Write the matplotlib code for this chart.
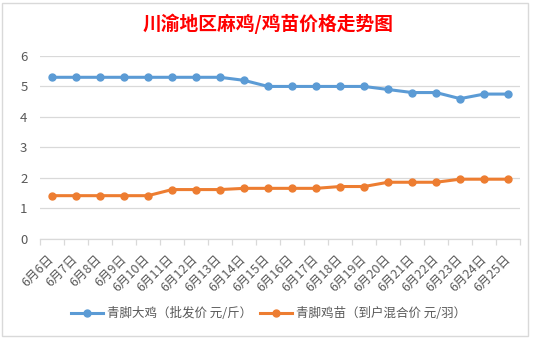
import matplotlib.pyplot as plt
from matplotlib.patches import Rectangle

plt.rcParams['font.family'] = ['Noto Sans CJK SC', 'DejaVu Sans']

# dates 6月6日 .. 6月25日
dates = ['6月6日', '6月7日', '6月8日', '6月9日', '6月10日', '6月11日', '6月12日',
         '6月13日', '6月14日', '6月15日', '6月16日', '6月17日', '6月18日', '6月19日',
         '6月20日', '6月21日', '6月22日', '6月23日', '6月24日', '6月25日']
# 青脚大鸡 wholesale price (元/斤)
big_chicken = [5.3, 5.3, 5.3, 5.3, 5.3, 5.3, 5.3, 5.3, 5.2, 5.0,
               5.0, 5.0, 5.0, 5.0, 4.9, 4.8, 4.8, 4.6, 4.75, 4.75]
# 青脚鸡苗 delivered price (元/羽)
chick = [1.42, 1.42, 1.42, 1.42, 1.42, 1.62, 1.62, 1.62, 1.66, 1.66,
         1.66, 1.66, 1.72, 1.72, 1.86, 1.86, 1.86, 1.96, 1.96, 1.96]
series_names = ['青脚大鸡（批发价 元/斤）', '青脚鸡苗（到户混合价 元/羽）']

blue = '#5B9BD5'
orange = '#ED7D31'
grey_txt = '#595959'
grid_col = '#D9D9D9'

fig = plt.figure(figsize=(5.37, 3.39), dpi=100)
ax = fig.add_axes([0.0745, 0.295, 0.894, 0.54])

x = list(range(len(dates)))
ax.plot(x, big_chicken, color=blue, lw=2.2, marker='o', ms=5, label=series_names[0])
ax.plot(x, chick, color=orange, lw=2.2, marker='o', ms=5, label=series_names[1])

ax.set_ylim(0, 6)
ax.set_xlim(-0.5, len(dates) - 0.5)
ax.set_yticks(range(0, 7))
ax.yaxis.grid(True, color=grid_col, lw=0.9)
ax.set_axisbelow(True)

for s in ['left', 'right', 'top']:
    ax.spines[s].set_visible(False)
ax.spines['bottom'].set_color(grid_col)
ax.spines['bottom'].set_linewidth(0.9)

ax.tick_params(axis='y', length=0, pad=9, labelsize=9.5, labelcolor=grey_txt)
ax.set_xticks(x)
ax.set_xticklabels(dates, rotation=45, ha='right', va='center',
                   rotation_mode='anchor', fontsize=9, color=grey_txt)
ax.tick_params(axis='x', which='major', length=0, pad=13)
ax.set_xticks([i - 0.5 for i in range(len(dates) + 1)], minor=True)
ax.tick_params(axis='x', which='minor', length=4, color=grid_col, width=0.9)

fig.text(0.5, 0.93, '川渝地区麻鸡/鸡苗价格走势图', color='red', fontsize=13.5,
         fontweight='bold', ha='center', va='center')

fig.legend(loc='center', bbox_to_anchor=(0.5, 0.075), ncol=2, frameon=False,
           fontsize=9, labelcolor=grey_txt, handlelength=2.6,
           handletextpad=0.3, columnspacing=0.6)

# chart area border
fig.patches.append(Rectangle((0.004, 0.009), 0.98, 0.982, transform=fig.transFigure,
                             fill=False, edgecolor=grid_col, lw=1))

fig.savefig('out.png', dpi=100)
